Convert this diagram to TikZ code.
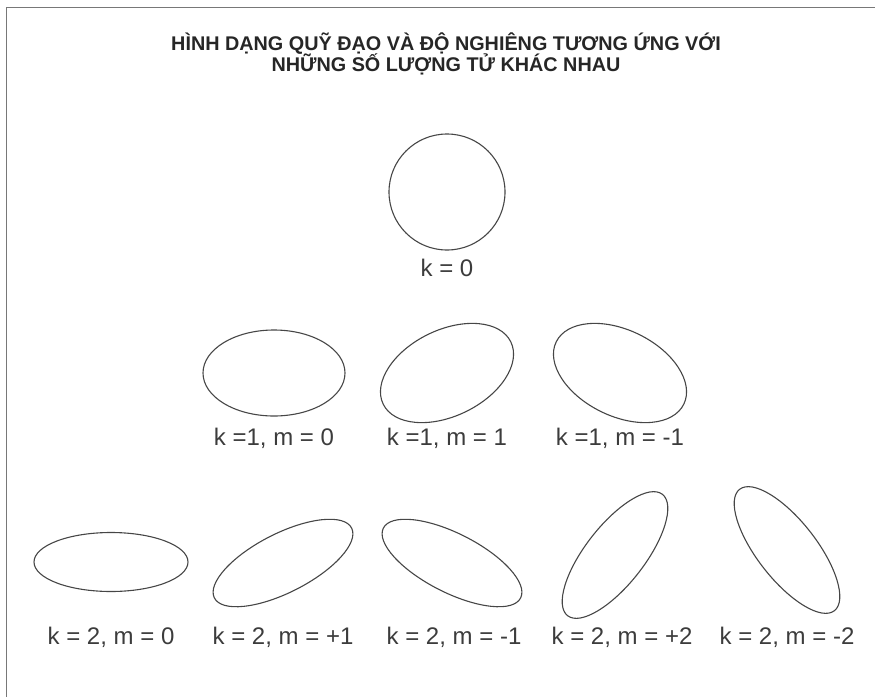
\documentclass[tikz,border=0pt]{standalone}
\usepackage{fontspec}
\setmainfont{Liberation Sans}
\usetikzlibrary{positioning,shapes.geometric}
\definecolor{orbitGray}{RGB}{70,70,70}
\definecolor{frameGray}{RGB}{120,120,120}
\definecolor{labelGray}{RGB}{60,60,60}

\begin{document}
\begin{tikzpicture}[
  x=1pt, y=-1pt,
  orbit/.style={ellipse, draw=orbitGray, line width=1.1pt, inner sep=0pt},
  orblabel/.style={font=\fontsize{24}{28}\selectfont, text=labelGray, anchor=base},
  titletext/.style={font=\fontsize{19.8}{17}\selectfont\bfseries, text=black!85,
                    anchor=base},
]
\useasboundingbox (0,0) rectangle (875,696);

%%──────────────────────────────────────────────────────────────────
%% Frame and title
%%──────────────────────────────────────────────────────────────────
\draw[frameGray, line width=1.6pt] (6.5,900) -- (6.5,7.5) -- (900,7.5);

\node[titletext] (title1) at (446,50) {HÌNH DẠNG QUỸ ĐẠO VÀ ĐỘ NGHIÊNG TƯƠNG ỨNG VỚI};
\node[titletext] (title2) at (446,71) {NHỮNG SỐ LƯỢNG TỬ KHÁC NHAU};

%%──────────────────────────────────────────────────────────────────
%% k = 0
%%──────────────────────────────────────────────────────────────────
\node[orbit, circle, minimum size=116pt] (o0) at (447,192) {};
\node[orblabel] (l0) at (447,276) {k = 0};

%%──────────────────────────────────────────────────────────────────
%% k = 1
%%──────────────────────────────────────────────────────────────────
\def\ya{373}   % orbit row
\def\la{445}   % label row
\node[orbit, minimum width=142pt, minimum height=86pt] (o10) at (274,\ya) {};
\node[orbit, minimum width=142pt, minimum height=86pt, rotate=26] (o11) at (447,\ya) {};
\node[orbit, minimum width=142pt, minimum height=86pt, rotate=-26] (o1m) at (620,\ya) {};

\node[orblabel] (l10) at (o10|-0,\la) {k =1, m = 0};
\node[orblabel] (l11) at (o11|-0,\la) {k =1, m = 1};
\node[orblabel] (l1m) at (o1m|-0,\la) {k =1, m = -1};

%%──────────────────────────────────────────────────────────────────
%% k = 2
%%──────────────────────────────────────────────────────────────────
\def\lb{644}
\foreach \nm/\cx/\cy/\ang in {o20/111/562/0, o21/283/563/27, o2m/452/563/-27,
                              o22/615/555/52, o2mm/787/550/-52}{
  \node[orbit, minimum width=154pt, minimum height=59pt, rotate=\ang] (\nm) at (\cx,\cy) {};
}

\node[orblabel] (l20) at (111,\lb) {k = 2, m = 0};
\node[orblabel] (l21) at (283,\lb) {k = 2, m = +1};
\node[orblabel] (l2m) at (454,\lb) {k = 2, m = -1};
\node[orblabel] (l22) at (622,\lb) {k = 2, m = +2};
\node[orblabel] (l2mm) at (787,\lb) {k = 2, m = -2};

\end{tikzpicture}
\end{document}
